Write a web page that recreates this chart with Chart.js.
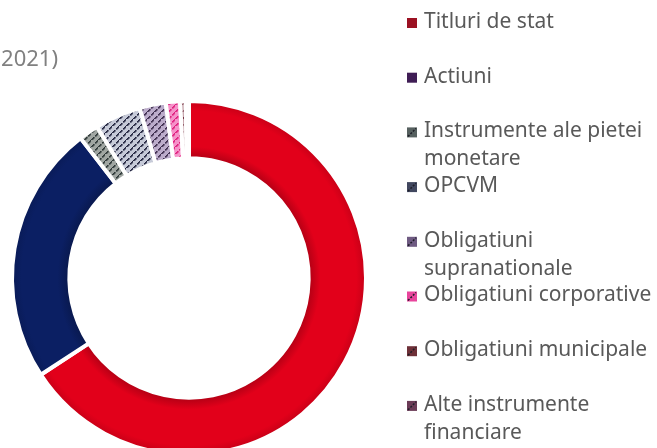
<!DOCTYPE html>
<html>
<head>
<meta charset="utf-8">
<script src="https://cdn.jsdelivr.net/npm/chart.js@4.4.1/dist/chart.umd.min.js"></script>
<style>
  html, body { margin: 0; padding: 0; background: #fff; overflow: hidden; }
  #wrap { position: relative; width: 657px; height: 470px; }
</style>
</head>
<body>
<div id="wrap"><canvas id="donut"></canvas></div>
<script>
// Portfolio structure doughnut (cropped on the left like the source)

const categories = [
    "Titluri de stat",
    "Actiuni",
    "Instrumente ale pietei monetare",
    "OPCVM",
    "Obligatiuni supranationale",
    "Obligatiuni corporative",
    "Obligatiuni municipale",
    "Alte instrumente financiare"
];
const shares = [65.8, 23.7, 1.8, 4.2, 2.4, 1.3, 0.5, 0.3];

const sliceColors  = ["#E2001A", "#0B1F63", "#A0A6A2", "#C6CAD8", "#BCACCB", "#F592C9", "#C09AA2", "#A68AA0"];
const stripeColors = [null, null, "#2E3838", "#23253F", "#3E2E4E", "#E0207F", "#6E2A3A", "#5A3050"];
const legendColors = ["#9B1122", "#3F1D55", "#56605F", "#41475F", "#6F5B82", "#E8449C", "#6E3038", "#6B3B57"];
const titleText = "Structura portofoliului (decembrie 2021)";

const FONT = "'Noto Sans', sans-serif";

const patternCache = {};
function stripePattern(base, stripe) {
    const key = base + stripe;
    if (patternCache[key]) return patternCache[key];
    const n = 7;
    const c = document.createElement("canvas");
    c.width = n; c.height = n;
    const g = c.getContext("2d");
    g.fillStyle = base;
    g.fillRect(0, 0, n, n);
    g.fillStyle = stripe;
    // dashed "/" diagonal
    for (let k = 0; k < n; k++) {
        if (k % 4 === 3) continue;
        g.fillRect(k, n - 1 - k, 1.6, 1.6);
    }
    const p = g.createPattern(c, "repeat");
    patternCache[key] = p;
    return p;
}

function shadeColor(hex, f) {
    const n = parseInt(hex.slice(1), 16);
    const r = Math.round(((n >> 16) & 255) * f);
    const g = Math.round(((n >> 8) & 255) * f);
    const b = Math.round((n & 255) * f);
    return `rgb(${r},${g},${b})`;
}

function sliceFill(ctx) {
    const i = ctx.dataIndex;
    if (stripeColors[i]) return stripePattern(sliceColors[i], stripeColors[i]);
    const chart = ctx.chart;
    const a = chart.chartArea;
    if (!a) return sliceColors[i];
    const cx = (a.left + a.right) / 2, cy = (a.top + a.bottom) / 2;
    const outer = Math.min(a.right - a.left, a.bottom - a.top) / 2;
    const inner = outer * 0.676;
    const g = chart.ctx.createRadialGradient(cx, cy, inner, cx, cy, outer);
    g.addColorStop(0, shadeColor(sliceColors[i], 0.8));
    g.addColorStop(0.18, sliceColors[i]);
    g.addColorStop(0.8, sliceColors[i]);
    g.addColorStop(1, shadeColor(sliceColors[i], 0.85));
    return g;
}

// title and legend drawn beside the ring
const sidePlugin = {
    id: "side",
    afterDraw(chart) {
        const c = chart.ctx;
        c.save();
        c.font = "22px " + FONT;
        c.fillStyle = "#808080";
        c.textAlign = "right";
        c.textBaseline = "middle";
        c.fillText(titleText, 58, 60);

        c.font = "21px " + FONT;
        c.textAlign = "left";
        const maxW = 240;
        for (let i = 0; i < categories.length; i++) {
            const y = 22 + i * 54.7;
            const words = categories[i].split(" ");
            const lines = [];
            let cur = "";
            words.forEach(w => {
                const t = cur ? cur + " " + w : w;
                if (c.measureText(t).width > maxW && cur) { lines.push(cur); cur = w; }
                else cur = t;
            });
            lines.push(cur);
            // marker
            c.fillStyle = legendColors[i];
            c.fillRect(407, y - 4, 10, 10);
            if (stripeColors[i]) {
                c.strokeStyle = "#1E1E28";
                c.lineWidth = 1.5;
                c.setLineDash([2, 1.5]);
                c.beginPath();
                c.moveTo(408, y + 5);
                c.lineTo(416, y - 3);
                c.stroke();
                c.setLineDash([]);
            }
            c.fillStyle = "#595959";
            lines.forEach((ln, k) => c.fillText(ln, 424, y + k * 28));
        }
        c.restore();
    }
};

new Chart(document.getElementById("donut"), {
    type: "doughnut",
    data: {
        labels: categories,
        datasets: [{
            data: shares,
            backgroundColor: sliceFill,
            borderColor: "#ffffff",
            borderWidth: 4
        }]
    },
    options: {
        responsive: true,
        maintainAspectRatio: false,
        animation: false,
        cutout: "67.6%",
        layout: { padding: { left: 10, right: 289, top: 99, bottom: 13 } },
        plugins: {
            legend: { display: false },
            tooltip: { enabled: false },
            title: { display: false }
        }
    },
    plugins: [sidePlugin]
});
</script>
</body>
</html>
